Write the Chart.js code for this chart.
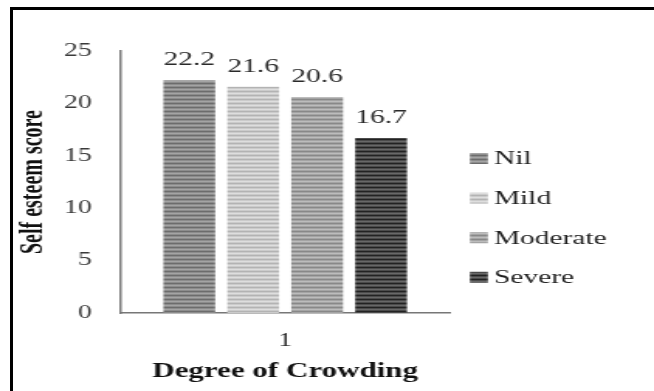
<!DOCTYPE html>
<html>
<head>
<meta charset="utf-8">
<script src="https://cdn.jsdelivr.net/npm/chart.js@4.4.1/dist/chart.umd.min.js"></script>
<style>
  html, body { margin: 0; padding: 0; background: #fff; width: 654px; height: 391px; overflow: hidden; }
  #frame { position: absolute; left: 10px; top: 7px; width: 644px; height: 384px;
           border-top: 3px solid #000; border-left: 3px solid #000; box-sizing: border-box; }
  /* the plot is laid out on a narrower canvas and widened, giving the broad lettering */
  #wrap { position: absolute; left: 0; top: 0; width: 422px; height: 391px;
          transform: scaleX(1.5498); transform-origin: 0 0; }
</style>
</head>
<body>
<div id="frame"></div>
<div id="wrap"><canvas id="chart" width="422" height="391"></canvas></div>
<script>
// ---- data ----
const categories = ['1'];
const seriesNames = ['Nil', 'Mild', 'Moderate', 'Severe'];
const scores = [22.2, 21.6, 20.6, 16.7];
const yTickValues = [0, 5, 10, 15, 20, 25];

// ---- styles: horizontal pin-stripe fills, one per series ----
const stripeRows = [
  ['#8c8c8c', '#a4a4a4', '#8c8c8c', '#6c6c6c'],
  ['#cbcbcb', '#dedede', '#cbcbcb', '#b3b3b3'],
  ['#a4a4a4', '#bcbcbc', '#a4a4a4', '#888888'],
  ['#4b4b4b', '#686868', '#4b4b4b', '#222222']
];
const SERIF = "'Liberation Serif', 'Times New Roman', serif";

function stripePattern(rows) {
  const c = document.createElement('canvas');
  c.width = 4; c.height = rows.length;
  const g = c.getContext('2d');
  rows.forEach((col, i) => { g.fillStyle = col; g.fillRect(0, i, 4, 1); });
  return g.createPattern(c, 'repeat');
}

const datasets = seriesNames.map((name, i) => ({
  label: name,
  data: [scores[i]],
  backgroundColor: stripePattern(stripeRows[i]),
  borderWidth: 0,
  categoryPercentage: 0.774,
  barPercentage: 0.81
}));

// value printed above each bar
const valueLabels = {
  id: 'valueLabels',
  afterDatasetsDraw(chart, args, opts) {
    const ctx = chart.ctx;
    ctx.save();
    ctx.font = `${opts.size}px ${SERIF}`;
    ctx.fillStyle = opts.color;
    ctx.textAlign = 'center';
    ctx.textBaseline = 'middle';
    chart.data.datasets.forEach((ds, i) => {
      const meta = chart.getDatasetMeta(i);
      meta.data.forEach((bar, j) => {
        ctx.fillText(ds.data[j].toFixed(1), bar.x, bar.y - opts.offset);
      });
    });
    ctx.restore();
  }
};

// vertical key on the right
const sideKey = {
  id: 'sideKey',
  afterDraw(chart, args, opts) {
    const ctx = chart.ctx;
    ctx.save();
    ctx.font = `${opts.size}px ${SERIF}`;
    ctx.textAlign = 'left';
    ctx.textBaseline = 'middle';
    chart.data.datasets.forEach((ds, i) => {
      const cy = opts.y0 + i * opts.step;
      ctx.fillStyle = ds.backgroundColor;
      ctx.fillRect(opts.boxX, cy - opts.boxH / 2, opts.boxW, opts.boxH);
      ctx.fillStyle = opts.color;
      ctx.fillText(ds.label, opts.textX, cy + 1);
    });
    ctx.restore();
  }
};

new Chart(document.getElementById('chart'), {
  type: 'bar',
  data: { labels: categories, datasets },
  plugins: [valueLabels, sideKey],
  options: {
    responsive: false,
    animation: false,
    devicePixelRatio: 1,
    layout: { padding: { left: 6, top: 51, right: 131.4, bottom: 0 } },
    plugins: {
      legend: { display: false },
      tooltip: { enabled: false },
      valueLabels: { size: 19, color: '#2a2a2a', offset: 20 },
      sideKey: { boxX: 303.2, boxW: 11.6, boxH: 11, textX: 318.7, y0: 158.5, step: 39.6, size: 19, color: '#1e1e1e' }
    },
    scales: {
      x: {
        grid: { display: false, drawTicks: false },
        border: { display: true, color: '#777', width: 1.5 },
        ticks: { padding: 17, color: '#2e2e2e', font: { family: SERIF, size: 18 } },
        title: { display: true, text: 'Degree of Crowding', color: '#111',
                 font: { family: SERIF, size: 20, weight: 'bold' }, padding: { top: 0, bottom: 7 } },
        afterFit: s => { s.height = 78; }
      },
      y: {
        min: 0, max: 25,
        afterBuildTicks: s => { s.ticks = yTickValues.map(v => ({ value: v })); },
        grid: { display: false, drawTicks: false },
        border: { display: true, color: '#777', width: 1.5 },
        ticks: { padding: 18.2, color: '#3a3a3a', font: { family: SERIF, size: 18 } },
        title: { display: true, text: 'Self esteem score', color: '#111',
                 font: { family: SERIF, size: 20, weight: 'bold' }, padding: { top: 4, bottom: 0 } },
        afterFit: s => { s.width = 71.4; }
      }
    }
  }
});
</script>
</body>
</html>
